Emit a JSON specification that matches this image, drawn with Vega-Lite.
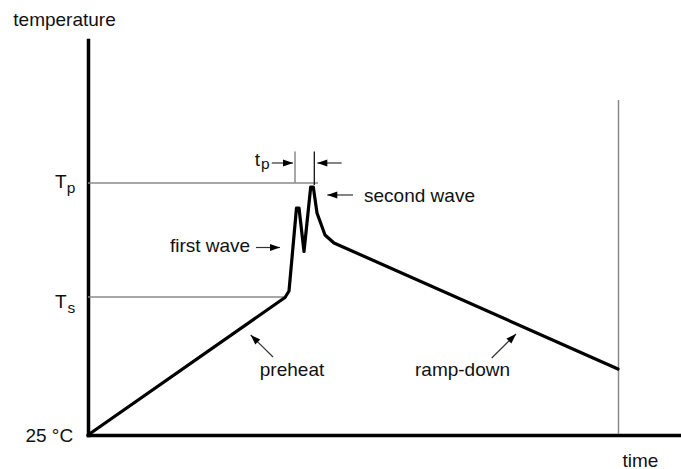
{
  "$schema": "https://vega.github.io/schema/vega-lite/v6.json",
  "width": 593,
  "height": 395,
  "autosize": {"type": "none"},
  "padding": {"left": 88, "top": 40, "right": 0, "bottom": 34},
  "background": "white",
  "config": {
    "view": {"stroke": null},
    "font": "Liberation Sans",
    "text": {"font": "Liberation Sans", "color": "#111111"}
  },
  "datasets": {
    "curve": [
      {"i": 0, "t": 0, "v": 0},
      {"i": 1, "t": 197, "v": 137.5},
      {"i": 2, "t": 201, "v": 144},
      {"i": 3, "t": 208.5, "v": 227},
      {"i": 4, "t": 211, "v": 227},
      {"i": 5, "t": 216, "v": 183.5},
      {"i": 6, "t": 222.7, "v": 248},
      {"i": 7, "t": 225.3, "v": 248},
      {"i": 8, "t": 229, "v": 222},
      {"i": 9, "t": 237, "v": 200},
      {"i": 10, "t": 246, "v": 192},
      {"i": 11, "t": 530, "v": 66}
    ],
    "hrefs": [
      {"name": "Tp", "t": 0, "t2": 230, "v": 252},
      {"name": "Ts", "t": 0, "t2": 199, "v": 138}
    ],
    "vrefs": [
      {"name": "end", "t": 530.5, "v": 1, "v2": 335},
      {"name": "tp1", "t": 207, "v": 252, "v2": 283.5}
    ],
    "marker": [
      {"name": "tp2", "t": 226.3, "v": 250, "v2": 283.5}
    ],
    "arrows": [
      {"name": "tp-right", "dir": "right", "t": 183.7, "v": 272, "t2": 205, "v2": 272},
      {"name": "tp-left", "dir": "left", "t": 253.7, "v": 272, "t2": 229.3, "v2": 272},
      {"name": "second", "dir": "left", "t": 265, "v": 240, "t2": 239.3, "v2": 240},
      {"name": "first", "dir": "right", "t": 168, "v": 187.5, "t2": 192, "v2": 187.5},
      {"name": "preheat", "dir": "upleft", "t": 185, "v": 78, "t2": 162.7, "v2": 100},
      {"name": "ramp", "dir": "upright", "t": 403.7, "v": 77, "t2": 428, "v2": 101}
    ],
    "labels": [
      {"label": "second wave", "t": 331.5, "v": 233.5},
      {"label": "first wave", "t": 122, "v": 183},
      {"label": "preheat", "t": 204, "v": 59},
      {"label": "ramp-down", "t": 374.5, "v": 59},
      {"label": "25 °C", "t": -38.7, "v": -6.7},
      {"label": "T", "t": -27.2, "v": 246.7},
      {"label": "T", "t": -27.2, "v": 126.7},
      {"label": "t", "t": 169.3, "v": 269}
    ],
    "subs": [
      {"label": "p", "t": -17, "v": 242.5},
      {"label": "s", "t": -16.7, "v": 122.3},
      {"label": "p", "t": 177.3, "v": 266}
    ]
  },
  "encoding": {
    "x": {
      "field": "t", "type": "quantitative",
      "scale": {"domain": [0, 593], "nice": false, "zero": false},
      "axis": {
        "title": "time", "labels": false, "ticks": false, "grid": false,
        "domainColor": "#000000", "domainWidth": 3.5, "domainCap": "square",
        "titleFont": "Liberation Sans", "titleFontSize": 19, "titleFontWeight": "normal",
        "titleColor": "#111111", "titleAlign": "center", "titleBaseline": "alphabetic",
        "titleX": 552, "titleY": 31
      }
    },
    "y": {
      "field": "v", "type": "quantitative",
      "scale": {"domain": [0, 395], "nice": false, "zero": false},
      "axis": {
        "title": "temperature", "labels": false, "ticks": false, "grid": false,
        "domainColor": "#000000", "domainWidth": 3.5, "domainCap": "square",
        "titleFont": "Liberation Sans", "titleFontSize": 19, "titleFontWeight": "normal",
        "titleColor": "#111111", "titleAngle": 0, "titleAlign": "center", "titleBaseline": "alphabetic",
        "titleX": -24, "titleY": -15
      }
    }
  },
  "layer": [
    {
      "data": {"name": "hrefs"},
      "mark": {"type": "rule", "color": "#8a8a8a", "strokeWidth": 1.5},
      "encoding": {"x2": {"field": "t2"}}
    },
    {
      "data": {"name": "vrefs"},
      "mark": {"type": "rule", "color": "#8a8a8a", "strokeWidth": 1.5},
      "encoding": {"y2": {"field": "v2"}}
    },
    {
      "data": {"name": "marker"},
      "mark": {"type": "rule", "color": "#111111", "strokeWidth": 1.3},
      "encoding": {"y2": {"field": "v2"}}
    },
    {
      "data": {"name": "curve"},
      "mark": {"type": "line", "color": "#000000", "strokeWidth": 3.2, "strokeJoin": "round", "strokeCap": "round"},
      "encoding": {"order": {"field": "i", "type": "quantitative"}}
    },
    {
      "data": {"name": "arrows"},
      "mark": {"type": "rule", "color": "#333333", "strokeWidth": 1.2},
      "encoding": {"x2": {"field": "t2"}, "y2": {"field": "v2"}}
    },
    {
      "data": {"name": "arrows"},
      "transform": [{"filter": "datum.dir === 'right'"}],
      "mark": {"type": "point", "shape": "M0,0L-0.7,2L0.7,2Z", "filled": true, "color": "#000000", "opacity": 1, "size": 100, "angle": 90},
      "encoding": {"x": {"field": "t2", "type": "quantitative"}, "y": {"field": "v2", "type": "quantitative"}}
    },
    {
      "data": {"name": "arrows"},
      "transform": [{"filter": "datum.dir === 'left'"}],
      "mark": {"type": "point", "shape": "M0,0L-0.7,2L0.7,2Z", "filled": true, "color": "#000000", "opacity": 1, "size": 100, "angle": 270},
      "encoding": {"x": {"field": "t2", "type": "quantitative"}, "y": {"field": "v2", "type": "quantitative"}}
    },
    {
      "data": {"name": "arrows"},
      "transform": [{"filter": "datum.dir === 'upleft'"}],
      "mark": {"type": "point", "shape": "M0,0L-0.7,2L0.7,2Z", "filled": true, "color": "#000000", "opacity": 1, "size": 100, "angle": 315},
      "encoding": {"x": {"field": "t2", "type": "quantitative"}, "y": {"field": "v2", "type": "quantitative"}}
    },
    {
      "data": {"name": "arrows"},
      "transform": [{"filter": "datum.dir === 'upright'"}],
      "mark": {"type": "point", "shape": "M0,0L-0.7,2L0.7,2Z", "filled": true, "color": "#000000", "opacity": 1, "size": 100, "angle": 45},
      "encoding": {"x": {"field": "t2", "type": "quantitative"}, "y": {"field": "v2", "type": "quantitative"}}
    },
    {
      "data": {"name": "labels"},
      "mark": {"type": "text", "fontSize": 19, "align": "center", "baseline": "alphabetic", "color": "#111111"},
      "encoding": {"text": {"field": "label"}}
    },
    {
      "data": {"name": "subs"},
      "mark": {"type": "text", "fontSize": 15.5, "align": "center", "baseline": "alphabetic", "color": "#111111"},
      "encoding": {"text": {"field": "label"}}
    }
  ]
}
